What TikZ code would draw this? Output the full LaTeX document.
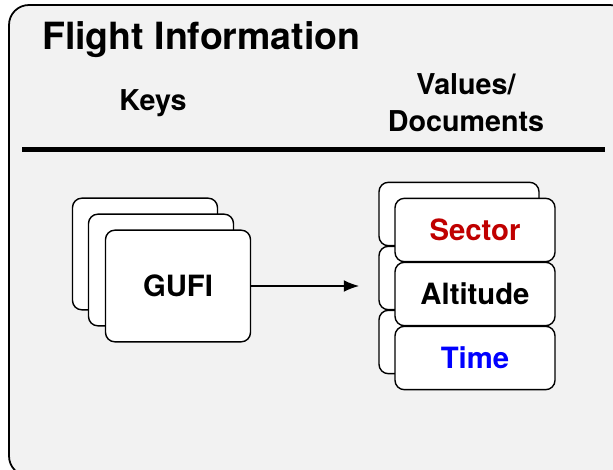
\documentclass[tikz,border=0pt]{standalone}
\usepackage{fontspec}
\setmainfont{TeX Gyre Heros}
\usetikzlibrary{arrows.meta}

\definecolor{panelgray}{HTML}{F2F2F2}
\definecolor{sectorred}{HTML}{C00000}
\definecolor{timeblue}{HTML}{0000FF}

\tikzset{
  card/.style={draw, fill=white, line width=1.2pt, rounded corners=8pt,
    inner sep=0pt, font=\fontsize{25}{29}\selectfont\bfseries},
  keycard/.style={card, minimum width=4.35cm, minimum height=3.35cm},
  valcard/.style={card, minimum width=4.8cm, minimum height=1.9cm},
  heading/.style={font=\fontsize{24.5}{31.2}\selectfont\bfseries, align=center},
}

\begin{document}
\begin{tikzpicture}[x=0.03cm,y=-0.03cm]

\clip (0,0) rectangle (613,469);

% Panel
\draw[fill=panelgray, line width=1.5pt, rounded corners=17pt]
    (9,5) rectangle (630,476);

% Headings
\node[anchor=base west, font=\fontsize{32}{38}\selectfont\bfseries]
    (title) at (38,49.5) {Flight Information};
\node[heading, anchor=base] (keys) at (153,110.5) {Keys};
\node[heading, anchor=base] (vals) at (466,131.5) {Values/\\Documents};

% Rule
\draw[line width=4.3pt] (22,149.5) -- (605,149.5);

% Key stack
\node[keycard] (gufi3) at (145,254) {};
\node[keycard] (gufi2) at (161,270) {};
\node[keycard] (gufi)  at (178,286) {GUFI};

% Value stacks
\foreach \y [count=\i] in {214,278,342}
    \node[valcard] (back\i) at (459,\y) {};

\node[valcard, text=sectorred] (sector)   at (475,230) {Sector};
\node[valcard]                 (altitude) at (475,294) {Altitude};
\node[valcard, text=timeblue]  (time)     at (475,358) {Time};

% Arrow
\coordinate (tip) at (359,286);
\draw[-{Latex[length=13pt,width=10pt]}, line width=1pt] (gufi) -- (tip);

\end{tikzpicture}
\end{document}
